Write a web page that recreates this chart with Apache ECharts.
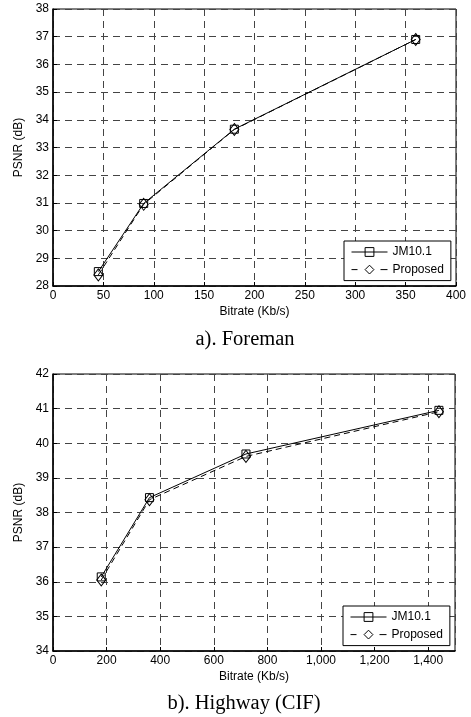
<!DOCTYPE html>
<html><head><meta charset="utf-8">
<script src="https://cdn.jsdelivr.net/npm/echarts@6/dist/echarts.min.js"></script>
<style>html,body{margin:0;padding:0;background:#fff}#c{width:471px;height:717px}</style>
</head><body><div id="c"></div>
<script>
// Data
var seriesNames = ['JM10.1', 'Proposed'];
var foremanBitrate = [45, 90, 180, 360];
var foremanJM = [28.52, 30.98, 33.66, 36.9];
var foremanProposed = [28.4, 30.95, 33.65, 36.9];
var highwayBitrate = [180, 360, 720, 1440];
var highwayJM = [36.14, 38.43, 39.69, 40.95];
var highwayProposed = [36.05, 38.37, 39.62, 40.91];
var captions = ['a). Foreman', 'b). Highway (CIF)'];
var xTitle = 'Bitrate (Kb/s)';
var yTitle = 'PSNR (dB)';

function pairs(xs, ys) { return xs.map(function (x, i) { return [x, ys[i]]; }); }

var font = 'Liberation Sans, Arial, sans-serif';
var gridLine = { show: true, lineStyle: { color: '#444', width: 1, type: [7, 5] } };
var labelStyle = { color: '#000', fontFamily: font, fontSize: 12 };

function xAxis(idx, max, interval, fmt) {
  return {
    type: 'value', gridIndex: idx, min: 0, max: max, interval: interval,
    name: xTitle, nameLocation: 'middle', nameGap: 20,
    nameTextStyle: { color: '#000', fontFamily: font, fontSize: 12 },
    axisLine: { show: true, onZero: false, lineStyle: { color: '#000', width: 1.5 } },
    axisTick: { show: true, inside: true, length: 4, lineStyle: { color: '#000' } },
    axisLabel: Object.assign({ margin: 4, showMaxLabel: interval === 50, formatter: fmt }, labelStyle),
    splitLine: gridLine
  };
}
function yAxis(idx, min, max) {
  return {
    type: 'value', gridIndex: idx, min: min, max: max, interval: 1,
    name: yTitle, nameLocation: 'middle', nameGap: 24, nameRotate: 90,
    nameTextStyle: { color: '#000', fontFamily: font, fontSize: 12 },
    axisLine: { show: true, onZero: false, lineStyle: { color: '#000', width: 1.5 } },
    axisTick: { show: true, inside: true, length: 4, lineStyle: { color: '#000' } },
    axisLabel: Object.assign({ margin: 4 }, labelStyle),
    splitLine: gridLine
  };
}
function lineSeries(name, data, xi, yi, dashed, symbol) {
  return {
    name: name, type: 'line', xAxisIndex: xi, yAxisIndex: yi, data: data,
    symbol: symbol, symbolSize: symbol === 'rect' ? 8 : [9, 12],
    showAllSymbol: true,
    lineStyle: { color: '#000', width: 1, type: dashed ? [6, 4] : 'solid' },
    itemStyle: { color: 'rgba(255,255,255,0)', borderColor: '#000', borderWidth: 1 },
    emphasis: { disabled: true }, animation: false, z: 5
  };
}
var legendBase = {
  orient: 'vertical', backgroundColor: '#fff', borderColor: '#000', borderWidth: 1,
  padding: [5, 7, 5, 7], itemGap: 5.6, itemWidth: 36, itemHeight: 11,
  lineStyle: { width: 1 },
  itemStyle: { borderWidth: 1 },
  textStyle: { color: '#000', fontFamily: font, fontSize: 12, lineHeight: 12 },
  data: [
    { name: seriesNames[0] },
    { name: seriesNames[1], lineStyle: { width: 1, type: [6, 23, 8] } }
  ]
};

var chart = echarts.init(document.getElementById('c'), null, { renderer: 'canvas' });
var capFont = '20.5px "Liberation Serif", "Times New Roman", serif';
chart.setOption({
  animation: false,
  grid: [
    { left: 53, top: 9, width: 403, height: 277, show: true, borderColor: '#000', borderWidth: 1, backgroundColor: 'transparent' },
    { left: 53, top: 374, width: 402, height: 277, show: true, borderColor: '#000', borderWidth: 1, backgroundColor: 'transparent' }
  ],
  xAxis: [
    xAxis(0, 400, 50, function (v) { return String(v); }),
    xAxis(1, 1500, 200, function (v) { return v.toLocaleString('en-US'); })
  ],
  yAxis: [yAxis(0, 28, 38), yAxis(1, 34, 42)],
  legend: [
    Object.assign({}, legendBase, { left: 344, top: 241 }),
    Object.assign({}, legendBase, { left: 343, top: 606 })
  ],
  series: [
    lineSeries(seriesNames[0], pairs(foremanBitrate, foremanJM), 0, 0, false, 'rect'),
    lineSeries(seriesNames[1], pairs(foremanBitrate, foremanProposed), 0, 0, true, 'diamond'),
    lineSeries(seriesNames[0], pairs(highwayBitrate, highwayJM), 1, 1, false, 'rect'),
    lineSeries(seriesNames[1], pairs(highwayBitrate, highwayProposed), 1, 1, true, 'diamond')
  ],
  graphic: [
    { type: 'text', style: { x: 245, y: 340, text: captions[0], fill: '#000', font: capFont, align: 'center', verticalAlign: 'middle' } },
    { type: 'text', style: { x: 244, y: 703.5, text: captions[1], fill: '#000', font: capFont, align: 'center', verticalAlign: 'middle' } }
  ]
});
</script></body></html>
